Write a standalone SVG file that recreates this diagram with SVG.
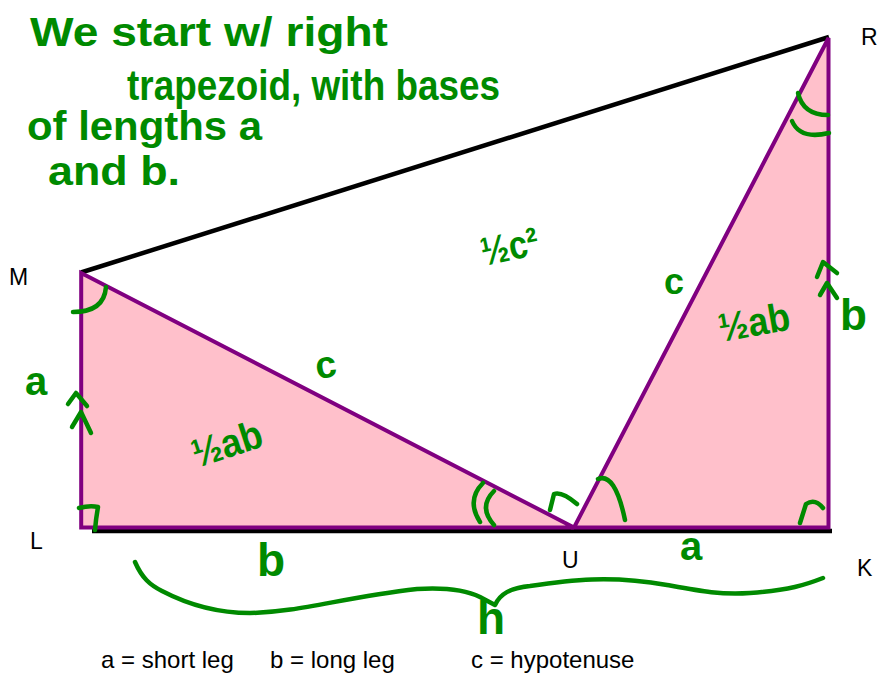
<svg xmlns="http://www.w3.org/2000/svg" width="877" height="675" viewBox="0 0 877 675">
<style>
.lbl{font-family:"Liberation Sans",Arial,sans-serif;font-size:23px;fill:#000}
.leg{font-family:"Liberation Sans",Arial,sans-serif;font-size:24px;fill:#000}
.hw{font-family:"Liberation Sans",Arial,sans-serif;fill:#008a00;font-weight:bold}
.tri{fill:#ffc0cb;stroke:#800080;stroke-width:4;stroke-linejoin:miter}
.blk{stroke:#000;stroke-width:4.5;fill:none}
.mark{stroke:#008a00;stroke-width:4.5;fill:none;stroke-linecap:round;stroke-linejoin:round}
</style>
<rect width="877" height="675" fill="#fff"/>
<g id="connectors">
<line class="blk" x1="81" y1="272.5" x2="829" y2="37"/>
<line class="blk" x1="92" y1="531" x2="832" y2="531"/>
</g>
<g id="triangle-MLU"><polygon class="tri" points="81.2,273 81.2,527.5 574,527.5"/></g>
<g id="triangle-UKR"><polygon class="tri" points="574,527.5 828.5,527.5 828.5,38"/></g>
<g id="vertex-labels">
<text class="lbl" x="9" y="285">M</text>
<text class="lbl" x="30" y="549">L</text>
<text class="lbl" x="562" y="568">U</text>
<text class="lbl" x="857" y="576">K</text>
<text class="lbl" x="861" y="45">R</text>
</g>
<g id="marks">
<path class="mark" d="M73,312 Q104,312 106,287"/>
<path class="mark" d="M79,508 Q90,505 98,507 Q96,518 95,530"/>
<path class="mark" d="M68,404 L76,393 L87,406 M72,427 L81,412 L91,433"/>
<path class="mark" d="M817,277 L823,262 L837,273 M820,295 L827,283 L837,298"/>
<path class="mark" d="M798,93 Q803,115 828,115 M792,121 Q800,140 829,133"/>
<path class="mark" d="M483,483 Q466,500 480,522 M494,491 Q478,507 494,525"/>
<path class="mark" d="M550,510 L554,494 Q562,491 577,504"/>
<path class="mark" d="M598,479 Q615,472 625,520"/>
<path class="mark" d="M800,523 L806,504 Q815,498 823,508"/>
<path class="mark" d="M135,562 C142,578 150,585 162,591 C185,603 215,613 250,613 C300,612 340,598 417,589 C450,587 470,592 480,597 L495,605 C500,594 510,588 530,586 C570,580 610,575 667,585 C700,591 720,595 750,593 C790,590 805,585 823,578"/>
</g>
<g id="notes">
<text class="hw" x="30" y="46" font-size="40" textLength="358" lengthAdjust="spacingAndGlyphs">We start w/ right</text>
<text class="hw" x="127" y="100" font-size="42" textLength="373" lengthAdjust="spacingAndGlyphs">trapezoid, with bases</text>
<text class="hw" x="27" y="140" font-size="40" textLength="235" lengthAdjust="spacingAndGlyphs">of lengths a</text>
<text class="hw" x="48" y="185" font-size="40" textLength="132" lengthAdjust="spacingAndGlyphs">and b.</text>
<text class="hw" x="484" y="266" font-size="40" transform="rotate(-12 484 266)" textLength="58" lengthAdjust="spacingAndGlyphs">½c²</text>
<text class="hw" x="317" y="379" font-size="38" transform="rotate(-8 317 379)">c</text>
<text class="hw" x="664" y="294" font-size="36">c</text>
<text class="hw" x="197" y="468" font-size="40" transform="rotate(-18 197 468)" textLength="72" lengthAdjust="spacingAndGlyphs">½ab</text>
<text class="hw" x="721" y="342" font-size="40" transform="rotate(-10 721 342)" textLength="72" lengthAdjust="spacingAndGlyphs">½ab</text>
<text class="hw" x="25" y="395" font-size="40">a</text>
<text class="hw" x="257" y="576" font-size="46">b</text>
<text class="hw" x="680" y="560" font-size="40">a</text>
<text class="hw" x="840" y="330" font-size="44">b</text>
<text class="hw" x="477" y="634" font-size="46">h</text>
</g>
<g id="legend">
<text class="leg" x="101" y="668">a = short leg</text>
<text class="leg" x="270" y="668">b = long leg</text>
<text class="leg" x="471" y="668">c = hypotenuse</text>
</g>
</svg>
